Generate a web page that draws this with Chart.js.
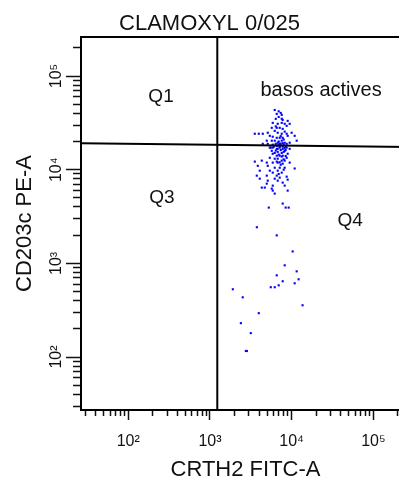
<!DOCTYPE html>
<html><head><meta charset="utf-8">
<script src="https://cdn.jsdelivr.net/npm/chart.js@4"></script>
<style>html,body{margin:0;padding:0;background:#fff;overflow:hidden;}canvas{display:block;}</style>
</head><body>
<canvas id="c" width="410" height="481"></canvas>
<script>
// ---- chart texts ----
const chartTitle = 'CLAMOXYL 0/025';
const xAxisTitle = 'CRTH2 FITC-A';
const yAxisTitle = 'CD203c PE-A';

// ---- tick labels (decades) ----
const decadeValues = [100, 1000, 10000, 100000];
const decadeLabels = ['10²', '10³', '10⁴', '10⁵'];

// ---- axis ranges ----
const xRange = [26.4, 281000];
const yRange = [27.2, 261000];

// ---- gates ----
const gateX = 1230;            // vertical gate (CRTH2)
const gateYLeft = 19100;       // horizontal gate, left end (CD203c)
const gateYRight = 17500;      // horizontal gate, right end

// ---- quadrant labels ----
const quadLabels = ['Q1', 'basos actives', 'Q3', 'Q4'];
const quadX = [252, 22900, 259, 51900];
const quadY = [60100, 69700, 5020, 2860];

// ---- events ----
const eventX = [
6210,6570,7350,7560,6940,6390,7770,5870,6750,7560,8220,8940,5710,6570,7140,7770,8690,9460,5100,6210,
6750,7560,8690,10000,3540,3960,4430,5400,5870,6570,7140,7770,8940,10890,4960,5710,6210,6750,7560,8220,
9460,11520,4430,5100,5870,6390,6940,7350,7990,8690,6570,7140,7770,8450,6040,6750,5550,
5400,5870,6570,7140,7770,8690,9460,5710,6210,6750,7560,8220,8940,5870,6570,7140,7770,8690,5400,6210,
6750,7560,8220,3540,4310,4960,5870,6750,7770,9460,3850,5100,6210,7140,8220,10890,4070,5400,5870,6750,
7560,3745,4960,6570,7140,8690,4070,5100,6210,6750,8940,7770,4960,5870,8220,4310,4690,5710,5870,8940,6210,
5250,7770,8450,9200,3750,6570,10290,8220,11520,6570,12180,7770,10890,6940,5550,6210,1905,2520,13600,3960,
2390,3160,2750,2830,
7350,7990,6390,8450,7140,7770,6940,8220,7560,6940,7990,6570,7350,7990,6940,7350,8220,6390,7560,6940,7990,8450,7140
];
const eventY = [
43400,39400,40400,38500,36600,34900,34000,31600,30900,31600,30900,33200,28000,28000,28000,27300,29400,30900,24800,26000,
24800,24200,24200,24800,24200,24200,24200,23000,22500,21900,21900,21900,23000,23000,20400,20400,20400,19400,20400,19400,
19400,20400,18900,18900,18500,18900,18500,18900,18500,18900,18000,17600,17600,17600,17600,16700,17200,
17200,17200,16700,17200,16700,17200,16700,15900,15100,15500,15100,15900,14800,14800,14100,14100,14100,13400,13400,13100,
13100,12500,12500,12200,12500,11900,11900,11900,11600,11900,11000,11000,10500,10500,10500,10300,9760,9760,9300,9760,
9300,8640,8640,8640,8230,8430,8020,7640,8020,7640,7830,7280,7100,6760,6760,6440,6440,6280,5980,5980,5560,
3940,4350,3940,3940,2430,1990,1340,953,822,745,676,644,613,583,556,556,529,434,357,294,
230,180,116,116,
16200,15500,16000,16200,19000,19200,20000,17000,13800,14500,12900,12200,11300,10000,9000,22800,25500,29000,35000,42000,21000,14000,12000
];

// tick positions: every 1..9 x 10^n inside the range
function logTicks(min, max) {
  const out = [];
  for (let e = 0; e < 7; e++) for (let m = 1; m < 10; m++) {
    const v = m * Math.pow(10, e);
    if (v >= min && v <= max) out.push(v);
  }
  return out;
}
const isMajor = c => !!(c.tick && decadeValues.includes(c.tick.value));
const tickLabel = v => { const i = decadeValues.indexOf(v); return i >= 0 ? decadeLabels[i] : ''; };
const tickFont = { family: '"Liberation Sans Narrow","Liberation Sans",Arial,sans-serif', size: 16 };
const titleFont = { family: '"Liberation Sans",Arial,sans-serif', size: 22, lineHeight: 1 };
const zeroPad = s => { s.paddingLeft = 0; s.paddingRight = 0; s.paddingTop = 0; s.paddingBottom = 0; };

const quadLabelPlugin = {
  id: 'quadLabels',
  afterDatasetsDraw(chart) {
    const { ctx, scales: { x, y } } = chart;
    ctx.save();
    ctx.fillStyle = '#111';
    ctx.textAlign = 'center';
    ctx.textBaseline = 'middle';
    quadLabels.forEach((t, i) => {
      ctx.font = (t.length > 2 ? '20px' : '19px') + ' "Liberation Sans", Arial, sans-serif';
      ctx.fillText(t, x.getPixelForValue(quadX[i]), y.getPixelForValue(quadY[i]));
    });
    ctx.restore();
  }
};

new Chart(document.getElementById('c'), {
  type: 'scatter',
  data: {
    datasets: [
      { label: 'gate-v', data: [{ x: gateX, y: yRange[0] }, { x: gateX, y: yRange[1] }],
        showLine: true, borderColor: '#000', borderWidth: 2, pointRadius: 0, order: 0 },
      { label: 'gate-h', data: [{ x: xRange[0], y: gateYLeft }, { x: xRange[1], y: gateYRight }],
        showLine: true, borderColor: '#000', borderWidth: 2, pointRadius: 0, order: 0 },
      { label: 'events', data: eventX.map((v, i) => ({ x: v, y: eventY[i] })),
        pointStyle: 'rect', pointRadius: 1.5, backgroundColor: '#0000ff', borderWidth: 0, order: 1 }
    ]
  },
  options: {
    responsive: false,
    animation: false,
    events: [],
    layout: { autoPadding: false, padding: { left: 9, right: 0, top: 0, bottom: 0 } },
    plugins: {
      legend: { display: false },
      tooltip: { enabled: false },
      title: { display: true, text: chartTitle, color: '#111', fullSize: true,
        font: { family: '"Liberation Sans",Arial,sans-serif', size: 22, weight: 'normal', lineHeight: 1.1 },
        padding: { top: 12, bottom: 0.8 } }
    },
    scales: {
      x: {
        type: 'logarithmic', position: 'bottom', min: xRange[0], max: xRange[1],
        afterBuildTicks: s => { s.ticks = logTicks(xRange[0], xRange[1]).map(v => ({ value: v })); },
        afterFit: s => { s.height = 71; zeroPad(s); },
        ticks: { autoSkip: false, minRotation: 0, maxRotation: 0, padding: 12, color: '#111', font: tickFont, callback: tickLabel },
        grid: { display: true, drawOnChartArea: false, drawTicks: true, tickLength: 10, tickWidth: 1.5, tickColor: '#111',
          tickBorderDash: c => isMajor(c) ? [] : [5, 100] },
        border: { display: true, color: '#000', width: 2 },
        title: { display: true, text: xAxisTitle, color: '#111', font: titleFont, padding: { top: 0, bottom: 0 } }
      },
      y: {
        type: 'logarithmic', position: 'left', min: yRange[0], max: yRange[1],
        afterBuildTicks: s => { s.ticks = logTicks(yRange[0], yRange[1]).map(v => ({ value: v })); },
        afterFit: s => { s.width = 72; zeroPad(s); },
        ticks: { autoSkip: false, minRotation: 90, maxRotation: 90, crossAlign: 'center', padding: -3, color: '#111', font: tickFont, callback: tickLabel },
        grid: { display: true, drawOnChartArea: false, drawTicks: true, tickLength: 15, tickWidth: 1.5, tickColor: '#111',
          tickBorderDash: c => isMajor(c) ? [] : [0, 7, 8, 100] },
        border: { display: true, color: '#000', width: 2 },
        title: { display: true, text: yAxisTitle, color: '#111', font: titleFont, padding: { top: 5, bottom: 0 } }
      },
      xTop: {
        type: 'linear', position: 'top', min: 0, max: 1,
        afterFit: s => { s.height = 0; zeroPad(s); },
        ticks: { display: false },
        grid: { display: false, drawTicks: false },
        border: { display: true, color: '#000', width: 2 }
      }
    }
  },
  plugins: [quadLabelPlugin]
});
</script>
</body></html>
